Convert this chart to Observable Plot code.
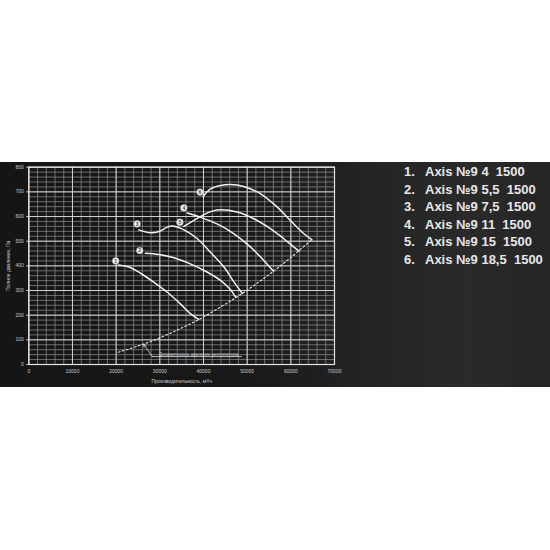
<!DOCTYPE html>
<html>
<head>
<meta charset="utf-8">
<script src="https://cdn.jsdelivr.net/npm/d3@7"></script>
<script src="https://cdn.jsdelivr.net/npm/@observablehq/plot@0.6"></script>
<style>
  html, body { margin: 0; padding: 0; background: #ffffff; width: 550px; height: 550px; overflow: hidden; }
  #band { position: absolute; left: 0; top: 162px; width: 550px; height: 225px;
    background: linear-gradient(90deg, #151515 0%, #191919 45%, #242425 68%, #2a2a2b 85%, #252526 100%); }
  #chart { position: absolute; left: 0; top: 0; }
  #legend { position: absolute; left: 404px; top: 1px; font-family: Arial, "Liberation Sans", sans-serif;
    font-weight: bold; font-size: 13px; color: #e8e8e8; line-height: 17.5px; white-space: pre; }
  #legend .n { display: inline-block; width: 21px; }
</style>
</head>
<body>
<div id="band">
  <div id="chart"></div>
  <div id="legend"></div>
</div>
<script>
const xTicks = [0, 10000, 20000, 30000, 40000, 50000, 60000, 70000];
const yTicks = [0, 100, 200, 300, 400, 500, 600, 700, 800];

const legendNames = ["Axis №9 4  1500", "Axis №9 5,5  1500", "Axis №9 7,5  1500", "Axis №9 11  1500", "Axis №9 15  1500", "Axis №9 18,5  1500"];

const curve1X = [20500, 22900, 25600, 28600, 31700, 34700, 37000, 38900];
const curve1Y = [403, 395, 370, 334, 293, 246, 206, 183];
const curve2X = [26700, 29800, 33200, 37000, 40900, 43900, 46200, 47400];
const curve2Y = [451, 446, 433, 408, 374, 341, 303, 272];
const curve3X = [25200, 27900, 29800, 31700, 33200, 35100, 38600, 41600, 44700, 47000, 48900];
const curve3Y = [546, 534, 539, 557, 561, 550, 510, 455, 395, 334, 288];
const curve4X = [36300, 39300, 43100, 47000, 50800, 53800, 56000];
const curve4Y = [614, 597, 570, 530, 476, 422, 379];
const curve5X = [35500, 37800, 40100, 42000, 44000, 47700, 51500, 55400, 58400, 60700, 61900];
const curve5Y = [560, 584, 608, 622, 627, 618, 591, 550, 510, 476, 460];
const curve6X = [39900, 41600, 43900, 46200, 49200, 53100, 56900, 59900, 63000, 64800];
const curve6Y = [681, 712, 726, 730, 722, 692, 638, 584, 530, 506];

const dynX = [20500, 25000, 30000, 35000, 39000, 44000, 48000, 52000, 56000, 60000, 64800];
const dynY = [50, 75, 108, 148, 183, 234, 278, 326, 378, 434, 506];

const markerNum = ["1", "2", "3", "4", "5", "6"];
const markerX = [19900, 25400, 24800, 35500, 34600, 39200];
const markerY = [420, 462, 570, 635, 577, 699];

const noteText = "Динамическое давление вентилятора";
const noteX = [28300, 26300];
const noteY = [32, 82];
const noteLineX = [28300, 48900];

const curvesX = [curve1X, curve2X, curve3X, curve4X, curve5X, curve6X];
const curvesY = [curve1Y, curve2Y, curve3Y, curve4Y, curve5Y, curve6Y];
const curveRows = curvesX.flatMap((xs, i) => xs.map((x, j) => ({id: i + 1, x, y: curvesY[i][j]})));
const dynRows = dynX.map((x, i) => ({x, y: dynY[i]}));
const markers = markerNum.map((n, i) => ({n, x: markerX[i], y: markerY[i]}));

const minorX = d3.range(0, 70001, 2000);
const minorY = d3.range(0, 801, 20);

const plot = Plot.plot({
  width: 345,
  height: 225,
  marginLeft: 28.3,
  marginRight: 11,
  marginTop: 4.7,
  marginBottom: 23,
  style: {background: "transparent", fontFamily: "Arial, 'Liberation Sans', sans-serif"},
  x: {domain: [0, 70000]},
  y: {domain: [0, 800]},
  marks: [
    Plot.ruleX(minorX, {stroke: "#909090", strokeWidth: 0.7}),
    Plot.ruleY(minorY, {stroke: "#909090", strokeWidth: 0.7}),
    Plot.ruleX(xTicks, {stroke: "#dcdcdc", strokeWidth: 0.9}),
    Plot.ruleY(yTicks, {stroke: "#dcdcdc", strokeWidth: 0.9}),
    Plot.frame({stroke: "#e4e4e4", strokeWidth: 1.2}),
    Plot.axisX({ticks: xTicks, tickFormat: d3.format("d"), tickSize: 0, tickPadding: 5, fontSize: 5, fill: "#cccccc",
      label: "Производительность, м³/ч", labelAnchor: "center", labelArrow: "none", labelOffset: 18}),
    Plot.axisY({ticks: yTicks, tickFormat: d3.format("d"), tickSize: 2, tickPadding: 3, fontSize: 5, fill: "#cccccc", stroke: "#cccccc",
      label: "Полное давление, Па", labelAnchor: "center", labelArrow: "none", labelOffset: 22}),
    Plot.line(dynRows, {x: "x", y: "y", stroke: "#e8e8e8", strokeWidth: 1.1, strokeDasharray: "1.8,2.4", curve: "catmull-rom"}),
    Plot.line(curveRows, {x: "x", y: "y", z: "id", stroke: "#f2f2f2", strokeWidth: 1.5, curve: "catmull-rom"}),
    Plot.arrow([0], {x1: noteX[0], y1: noteY[0], x2: noteX[1], y2: noteY[1], stroke: "#cfcfcf", strokeWidth: 0.9, headLength: 5}),
    Plot.ruleY([noteY[0]], {x1: noteLineX[0], x2: noteLineX[1], stroke: "#cfcfcf", strokeWidth: 0.9}),
    Plot.text([noteText], {x: noteX[0] + 1500, y: noteY[0] + 9, text: d => d, textAnchor: "start", fontSize: 4.5, fill: "#c4c4c4"}),
    Plot.dot(markers, {x: "x", y: "y", r: 3.4, fill: "#f0f0f0", stroke: "#999", strokeWidth: 0.5}),
    Plot.text(markers, {x: "x", y: "y", text: "n", fontSize: 5, fontWeight: "bold", fill: "#444"})
  ]
});
plot.style.color = "#cccccc";
document.getElementById("chart").appendChild(plot);

const legend = document.getElementById("legend");
legendNames.forEach((name, i) => {
  const row = document.createElement("div");
  const n = document.createElement("span");
  n.className = "n";
  n.textContent = (i + 1) + ".";
  row.appendChild(n);
  row.appendChild(document.createTextNode(name));
  legend.appendChild(row);
});
</script>
</body>
</html>
